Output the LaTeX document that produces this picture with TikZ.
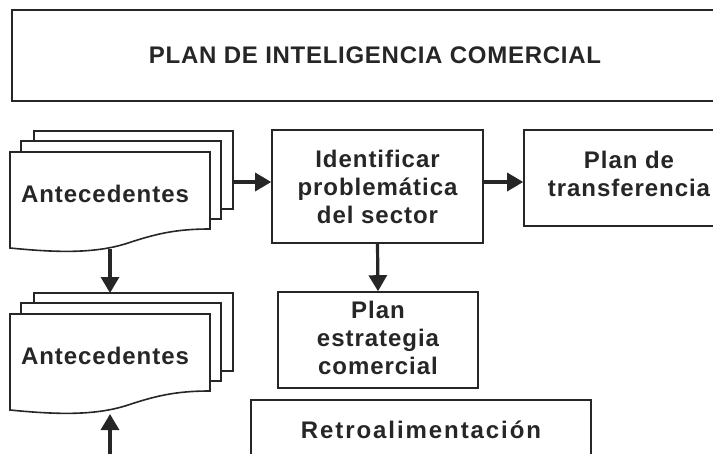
\documentclass[tikz,border=0pt]{standalone}
\usepackage{fontspec}
\setmainfont{Liberation Sans}
\newfontfamily\diagfont[LetterSpace=4]{Liberation Sans}
\usetikzlibrary{arrows.meta}
\begin{document}
\begin{tikzpicture}[x=1pt,y=-1pt,
  box/.style={draw=black!85,line width=1.6pt,fill=white,rectangle,inner sep=0pt},
  txt/.style={align=center,inner sep=0pt,font=\diagfont\bfseries\fontsize{24}{28}\selectfont,text=black!85},
  page/.style={draw=black!85,line width=1.6pt,fill=white},
  arr/.style={line width=3.2pt,draw=black!85,-{Triangle[width=18pt,length=16pt]}}]
\useasboundingbox (0,0) rectangle (713,453);
% title
\node[box,minimum width=728pt,minimum height=91pt] (title) at (376,55.5) {};
\node[txt,font=\diagfont\bfseries\fontsize{24}{28}\selectfont\addfontfeature{LetterSpace=3}] (titletxt) at (375,55.5) {PLAN DE INTELIGENCIA COMERCIAL};
% document stack 1
\draw[page] (34,131) rectangle (233,209);
\draw[page] (21,141) rectangle (221,219);
\draw[page] (210,229) -- (210,152) -- (10,152) -- (10,248)
  .. controls (60,253) and (95,253) .. (125,244)
  .. controls (155,234) and (175,229) .. (210,229) -- cycle;
\node[txt] (ante1) at (105,194) {Antecedentes};
\coordinate (d1r) at (233,182);
\coordinate (d1b) at (110,249);
% document stack 2
\begin{scope}[yshift=-162pt]
\draw[page] (34,131) rectangle (233,209);
\draw[page] (21,141) rectangle (221,219);
\draw[page] (210,229) -- (210,152) -- (10,152) -- (10,248)
  .. controls (60,253) and (95,253) .. (125,244)
  .. controls (155,234) and (175,229) .. (210,229) -- cycle;
\node[txt] (ante2) at (105,194) {Antecedentes};
\coordinate (d2t) at (110,131);
\coordinate (d2b) at (110,252);
\end{scope}
\coordinate (bot) at (110,456);
% boxes
\node[box,minimum width=211pt,minimum height=113pt] (ident) at (377.5,186.5) {};
\node[txt] (identtxt) at (377.5,187) {Identificar\\problemática\\del sector};
\node[box,minimum width=210pt,minimum height=96pt] (trans) at (629,178) {};
\node[txt] (transtxt) at (629,173.5) {Plan de\\transferencia};
\node[box,minimum width=200pt,minimum height=96pt] (estr) at (378,340) {};
\node[txt] (estrtxt) at (378,337.5) {Plan\\estrategia\\comercial};
\node[box,minimum width=340pt,minimum height=60pt] (retro) at (421,430) {};
\node[txt,font=\diagfont\bfseries\fontsize{24}{28}\selectfont\addfontfeature{LetterSpace=8}] (retrotxt) at (421,430) {Retroalimentación};
% arrows
\draw[arr] (d1r) -- (d1r -| ident.west);
\draw[arr] (ident.east |- d1r) -- (trans.west |- d1r);
\draw[arr] (ident.south) -- (estr.north);
\draw[arr] (d1b) -- (d2t);
\draw[arr] (bot) -- (d2b |- 0,414);
\end{tikzpicture}
\end{document}
